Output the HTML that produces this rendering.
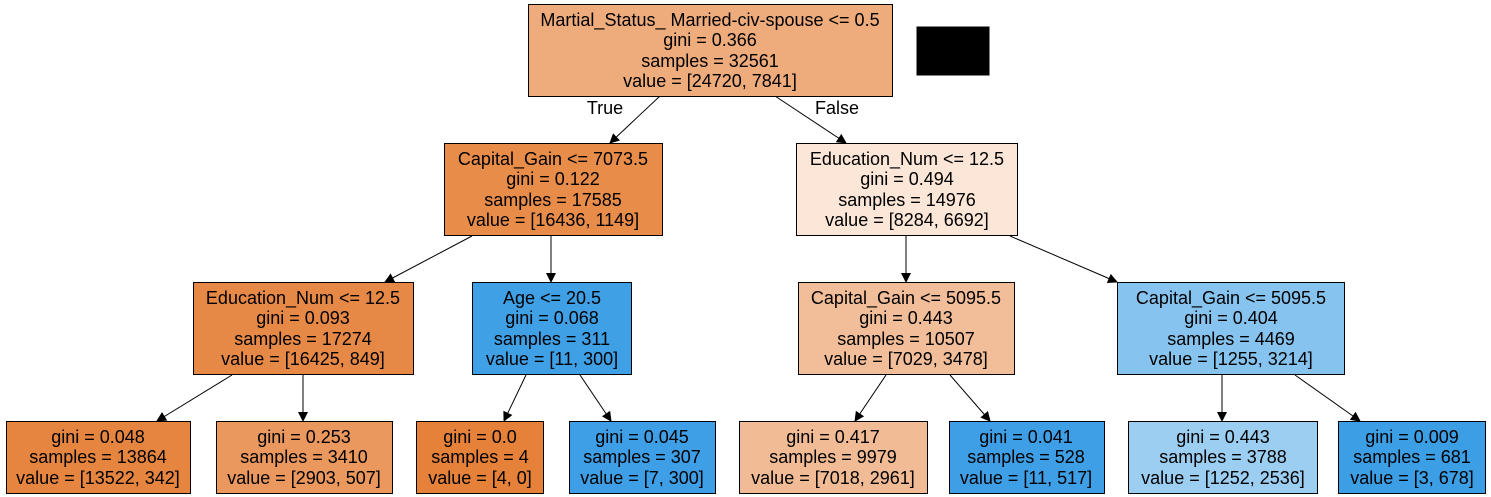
<!DOCTYPE html>
<html><head><meta charset="utf-8"><style>
html,body{margin:0;padding:0;background:#fff;}
svg{display:block;}
text{font-family:"Liberation Sans",Arial,sans-serif;font-size:18px;fill:#000;text-anchor:middle;}
rect{stroke:#000;stroke-width:1;}
line{stroke:#000;stroke-width:1;}
</style></head><body>
<svg width="1491" height="497" viewBox="0 0 1491 497" xmlns="http://www.w3.org/2000/svg">
<defs><marker id="a" markerWidth="10" markerHeight="10" refX="9" refY="5" orient="auto" markerUnits="userSpaceOnUse"><path d="M0,0 L10,5 L0,10 z" fill="#000"/></marker></defs>
<g>
<line x1="660" y1="96" x2="610" y2="143" marker-end="url(#a)"/>
<line x1="775" y1="96" x2="846" y2="143" marker-end="url(#a)"/>
<line x1="472" y1="236" x2="385" y2="282" marker-end="url(#a)"/>
<line x1="551" y1="236" x2="551" y2="282" marker-end="url(#a)"/>
<line x1="906" y1="236" x2="906" y2="282" marker-end="url(#a)"/>
<line x1="1010" y1="236" x2="1117" y2="282" marker-end="url(#a)"/>
<line x1="232" y1="375" x2="157" y2="421" marker-end="url(#a)"/>
<line x1="303" y1="375" x2="303" y2="421" marker-end="url(#a)"/>
<line x1="526" y1="375" x2="504" y2="421" marker-end="url(#a)"/>
<line x1="580" y1="375" x2="611" y2="421" marker-end="url(#a)"/>
<line x1="886" y1="375" x2="855" y2="421" marker-end="url(#a)"/>
<line x1="950" y1="375" x2="990" y2="421" marker-end="url(#a)"/>
<line x1="1222" y1="375" x2="1222" y2="421" marker-end="url(#a)"/>
<line x1="1295" y1="375" x2="1360" y2="421" marker-end="url(#a)"/>
</g>
<text x="605" y="114">True</text>
<text x="837" y="114">False</text>
<rect x="917" y="27" width="72" height="48" fill="#000"/>
<rect x="528.5" y="4.5" width="364" height="92" fill="#eeab7b"/>
<text x="710" y="26">Martial_Status_ Married-civ-spouse &lt;= 0.5</text>
<text x="710" y="46">gini = 0.366</text>
<text x="710" y="67">samples = 32561</text>
<text x="710" y="87">value = [24720, 7841]</text>
<rect x="444.5" y="143.5" width="218" height="92" fill="#e88c4a"/>
<text x="553" y="165">Capital_Gain &lt;= 7073.5</text>
<text x="553" y="185">gini = 0.122</text>
<text x="553" y="206">samples = 17585</text>
<text x="553" y="226">value = [16436, 1149]</text>
<rect x="796.5" y="143.5" width="221" height="92" fill="#fbe6d8"/>
<text x="907" y="165">Education_Num &lt;= 12.5</text>
<text x="907" y="185">gini = 0.494</text>
<text x="907" y="206">samples = 14976</text>
<text x="907" y="226">value = [8284, 6692]</text>
<rect x="193.5" y="282.5" width="220" height="92" fill="#e78946"/>
<text x="303" y="304">Education_Num &lt;= 12.5</text>
<text x="303" y="324">gini = 0.093</text>
<text x="303" y="345">samples = 17274</text>
<text x="303" y="365">value = [16425, 849]</text>
<rect x="472.5" y="282.5" width="159" height="92" fill="#3fa0e6"/>
<text x="552" y="304">Age &lt;= 20.5</text>
<text x="552" y="324">gini = 0.068</text>
<text x="552" y="345">samples = 311</text>
<text x="552" y="365">value = [11, 300]</text>
<rect x="798.5" y="282.5" width="216" height="92" fill="#f2be99"/>
<text x="906" y="304">Capital_Gain &lt;= 5095.5</text>
<text x="906" y="324">gini = 0.443</text>
<text x="906" y="345">samples = 10507</text>
<text x="906" y="365">value = [7029, 3478]</text>
<rect x="1117.5" y="282.5" width="227" height="92" fill="#86c3ef"/>
<text x="1231" y="304">Capital_Gain &lt;= 5095.5</text>
<text x="1231" y="324">gini = 0.404</text>
<text x="1231" y="345">samples = 4469</text>
<text x="1231" y="365">value = [1255, 3214]</text>
<rect x="6.5" y="421.5" width="184" height="72" fill="#e6853f"/>
<text x="98" y="443">gini = 0.048</text>
<text x="98" y="463">samples = 13864</text>
<text x="98" y="484">value = [13522, 342]</text>
<rect x="216.5" y="421.5" width="176" height="72" fill="#ea985e"/>
<text x="304" y="443">gini = 0.253</text>
<text x="304" y="463">samples = 3410</text>
<text x="304" y="484">value = [2903, 507]</text>
<rect x="416.5" y="421.5" width="127" height="72" fill="#e58139"/>
<text x="480" y="443">gini = 0.0</text>
<text x="480" y="463">samples = 4</text>
<text x="480" y="484">value = [4, 0]</text>
<rect x="569.5" y="421.5" width="146" height="72" fill="#3e9fe6"/>
<text x="642" y="443">gini = 0.045</text>
<text x="642" y="463">samples = 307</text>
<text x="642" y="484">value = [7, 300]</text>
<rect x="739.5" y="421.5" width="188" height="72" fill="#f1bc95"/>
<text x="833" y="443">gini = 0.417</text>
<text x="833" y="463">samples = 9979</text>
<text x="833" y="484">value = [7018, 2961]</text>
<rect x="949.5" y="421.5" width="155" height="72" fill="#3e9fe6"/>
<text x="1026" y="443">gini = 0.041</text>
<text x="1026" y="463">samples = 528</text>
<text x="1026" y="484">value = [11, 517]</text>
<rect x="1128.5" y="421.5" width="189" height="72" fill="#9ccef2"/>
<text x="1223" y="443">gini = 0.443</text>
<text x="1223" y="463">samples = 3788</text>
<text x="1223" y="484">value = [1252, 2536]</text>
<rect x="1338.5" y="421.5" width="147" height="72" fill="#3c9ee5"/>
<text x="1412" y="443">gini = 0.009</text>
<text x="1412" y="463">samples = 681</text>
<text x="1412" y="484">value = [3, 678]</text>
</svg>
</body></html>
